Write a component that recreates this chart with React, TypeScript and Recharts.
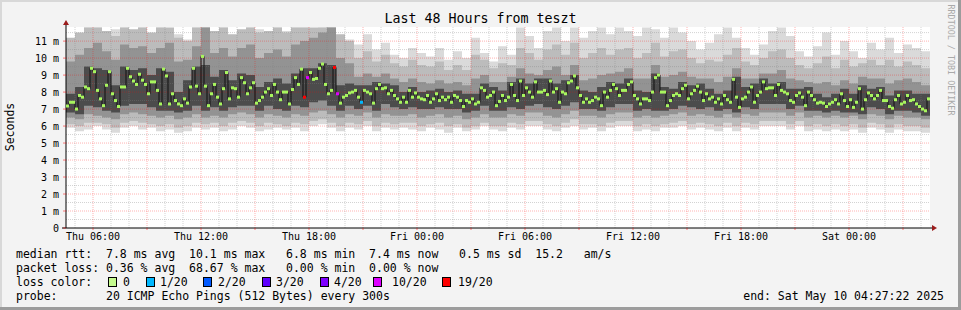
import React from 'react';
import { ComposedChart, Area, Line, XAxis, YAxis, ReferenceLine, CartesianGrid } from 'recharts';

// ---- data (time axis: hours since Thu 04:30; median every 10 minutes, smoke bands every 30 minutes) ----
const medianRtt = [
  7.18, 7.4, 7.4, 7.0, 7.8, 7.7, 8.3, 8.2, 9.4, 9.2,
  8.1, 7.6, 7.2, 8.4, 9.2, 7.9, 7.5, 7.15, 8.3, 8.3,
  9.4, 8.9, 8.65, 8.45, 9.05, 8.7, 8.45, 7.9, 8.6, 8.6,
  8.1, 7.3, 9.35, 8.95, 7.3, 7.9, 7.5, 7.3, 7.2, 7.6,
  7.35, 8.3, 9.4, 8.35, 7.9, 10.1, 8.35, 7.2, 7.9, 8.45,
  7.7, 7.3, 8.2, 9.15, 7.6, 8.25, 8.2, 7.7,
  8.85, 8.55, 7.9, 8.25, 8.55, 7.35, 7.5, 7.7, 8.0, 8.2,
  7.8, 8.45, 8.0, 7.55, 8.0, 8.0, 7.3, 8.15, 8.85, 8.45,
  9.35, 7.7, 8.85, 9.15, 8.75, 8.8, 9.4, 9.65, 8.45, 7.9,
  8.1, 9.45, 7.9, 7.35, 7.7, 7.8, 7.95, 8.0, 8.1, 7.7,
  7.4, 8.1, 8.0, 7.9, 7.35, 8.2, 8.45, 8.2, 8.25, 7.9,
  8.1, 7.8, 7.6, 7.4, 7.7, 7.4, 8.1, 7.7, 7.95, 7.7,
  7.6,
  7.55, 7.8, 7.4, 7.6, 7.9, 7.5, 7.7, 7.55, 7.7, 7.4,
  7.8, 7.7, 7.5, 7.15, 7.5, 7.4, 7.6, 7.3, 7.4, 8.25,
  8.1, 7.7, 7.8, 8.0, 7.2, 7.45, 7.8, 7.5, 7.7, 8.45,
  7.8, 7.5, 8.65, 7.8, 8.25, 8.0, 7.7, 8.6, 8.0, 8.0,
  8.1, 7.85, 8.65, 8.0, 8.2, 7.4, 8.0, 7.9, 8.55, 8.65,
  8.95, 8.25, 7.8, 7.4, 7.6, 7.4, 7.5, 7.7, 7.6, 7.2,
  8.0, 7.7, 8.1, 8.45, 8.2, 7.8, 8.1, 8.1, 8.45, 8.6,
  7.8, 7.6, 7.3, 7.6, 7.6, 7.5, 8.0, 8.85, 9.0, 8.0,
  8.0, 7.2, 7.5, 7.8, 7.9, 7.8, 8.2, 8.4, 7.6, 7.9,
  8.1, 8.35, 8.0, 7.5, 7.9, 7.6, 7.7, 7.4, 7.6, 7.3,
  7.8, 7.55, 7.4, 8.75, 7.7, 7.1, 7.6, 7.7, 8.0, 8.3,
  7.4, 7.8, 8.0, 8.6, 8.2, 8.25,
  8.25, 7.8, 8.45, 8.1, 8.0, 7.9, 7.5, 7.4, 7.8, 7.95,
  7.7, 7.2, 8.0, 7.8, 7.55, 7.35, 7.4, 7.35, 7.15, 7.3,
  7.4, 7.55, 7.3, 7.9, 7.5, 7.15, 7.55, 7.1, 7.4, 8.2,
  7.0, 7.55, 7.95, 7.8, 7.6, 7.8, 8.1, 7.5, 7.5, 7.15,
  7.05, 7.55, 7.8, 7.3, 7.4, 7.8, 7.5, 7.55, 7.3, 7.15,
  7.0, 6.9, 7.6,
];

// lost pings (of 20) at given 10-minute steps
const lossSteps = [79, 80, 89, 90, 98];
const lossCounts = [19, 10, 19, 10, 1];

// smoke: outermost (lightest) band
const outerHi = [
  10.9, 11.3, 11.8, 11.8, 11.4, 11.7, 11.8, 11.5, 11.8, 11.3,
  11.8, 11.6, 11.4, 11.1, 11.8, 11.8, 11.6, 11.8, 11.2, 11.5,
  11.8, 11.7, 11.4, 11.8, 11.6, 11.8, 11.8, 11.7, 11.8, 11.8,
  11.3, 11.1, 10.8, 11.4, 10.5, 10.9, 10.2, 10.0, 10.6, 10.3,
  10.1, 10.6, 9.9, 10.4, 10.0, 11.2, 10.3, 9.8, 10.7, 10.2,
  11.8, 11.3, 10.6, 11.6, 11.8, 11.0, 11.8, 11.2, 11.6, 11.8,
  11.4, 11.8, 11.6, 11.3, 11.8, 11.7, 11.2, 11.8, 11.5, 11.0,
  10.5, 10.9, 11.4, 11.8, 11.2, 10.6, 10.2, 10.8, 11.6, 11.8,
  11.3, 10.4, 10.1, 10.7, 11.5, 10.2, 11.0, 10.4, 10.0, 10.9,
  10.5, 11.2, 10.3, 10.8, 10.6, 10.4,
];
const outerLo = [
  5.9, 5.7, 5.8, 6.0, 5.8, 5.6, 5.9, 6.0, 5.8, 5.9,
  5.7, 5.8, 5.6, 5.7, 5.9, 5.8, 5.9, 5.7, 5.8, 6.0,
  5.9, 5.7, 5.8, 5.9, 5.8, 5.9, 5.7, 6.0, 6.1, 5.9,
  5.7, 5.9, 5.8, 6.0, 5.7, 5.9, 5.8, 5.9, 5.8, 5.7,
  5.9, 5.8, 5.6, 5.9, 5.7, 5.8, 6.0, 5.8, 5.7, 5.9,
  5.8, 6.0, 6.0, 5.8, 5.7, 5.9, 6.0, 5.8, 5.9, 5.7,
  5.9, 6.0, 6.0, 5.7, 5.8, 5.7, 5.9, 5.9, 6.0, 5.8,
  5.9, 5.8, 5.7, 5.9, 5.7, 5.9, 5.8, 6.0, 6.0, 6.0,
  5.8, 6.0, 5.7, 5.8, 5.7, 5.8, 5.7, 5.8, 5.6, 5.9,
  5.8, 5.6, 5.8, 5.7, 5.7, 5.6,
];
// second band
const lightHi = [
  11.2, 11.5, 11.8, 11.8, 11.6, 11.3, 11.8, 11.7, 11.8, 11.5,
  11.8, 11.8, 11.2, 11.0, 11.8, 11.8, 11.6, 11.8, 11.4, 11.7,
  11.8, 11.5, 11.6, 11.8, 11.5, 11.8, 11.8, 11.8, 11.8, 11.8,
  11.4, 11.0, 10.0, 10.4, 9.8, 10.2, 9.7, 9.5, 9.9, 9.6,
  9.5, 9.8, 9.3, 9.6, 9.3, 10.2, 9.9, 9.4, 9.7, 9.6,
  10.6, 10.3, 9.9, 10.5, 10.8, 10.2, 10.9, 10.0, 10.3, 10.6,
  10.2, 10.5, 10.6, 10.0, 10.3, 10.9, 10.1, 10.4, 10.5, 10.0,
  9.7, 9.9, 9.8, 10.2, 10.6, 9.8, 9.6, 10.0, 10.4, 10.5,
  10.0, 9.6, 9.4, 9.7, 10.1, 9.4, 9.9, 9.5, 9.7, 9.9,
  9.6, 9.9, 9.5, 9.8, 9.6, 9.4,
];
const lightLo = [
  6.1, 6.0, 6.2, 6.2, 6.1, 5.9, 6.2, 6.3, 6.2, 6.1,
  6.0, 6.1, 5.9, 6.0, 6.2, 6.1, 6.2, 6.0, 6.2, 6.3,
  6.2, 6.0, 6.2, 6.1, 6.0, 6.2, 6.1, 6.3, 6.4, 6.2,
  6.0, 6.2, 6.1, 6.3, 6.0, 6.2, 6.1, 6.2, 6.2, 6.0,
  6.1, 6.2, 6.0, 6.1, 5.9, 6.0, 6.2, 6.0, 6.0, 6.2,
  6.1, 6.3, 6.3, 6.1, 6.0, 6.2, 6.4, 6.1, 6.1, 6.0,
  6.2, 6.3, 6.3, 6.0, 6.1, 6.0, 6.1, 6.2, 6.3, 6.1,
  6.2, 6.1, 6.0, 6.2, 6.0, 6.2, 6.1, 6.3, 6.3, 6.3,
  6.1, 6.3, 6.0, 6.1, 6.0, 6.1, 6.0, 6.1, 5.9, 6.2,
  6.1, 5.9, 6.1, 6.0, 6.0, 5.9,
];
// third band
const midHi = [
  9.8, 10.2, 10.6, 10.9, 10.4, 9.9, 10.8, 10.6, 10.7, 10.3,
  10.6, 10.9, 9.8, 9.9, 10.7, 11.8, 10.3, 10.6, 10.1, 10.6,
  10.8, 10.0, 10.3, 10.5, 10.1, 10.8, 11.0, 11.2, 11.5, 11.8,
  10.0, 9.7, 8.9, 9.1, 8.9, 9.1, 8.8, 8.6, 8.8, 8.6,
  8.5, 8.7, 8.5, 8.6, 8.4, 8.8, 9.0, 8.6, 8.6, 8.9,
  9.4, 9.1, 9.0, 9.3, 9.5, 9.0, 9.6, 8.7, 8.8, 9.0,
  9.1, 9.2, 9.4, 8.8, 8.8, 9.6, 8.9, 9.0, 9.2, 8.9,
  8.8, 8.8, 8.6, 8.9, 9.4, 8.8, 8.8, 9.1, 9.1, 9.3,
  8.8, 8.7, 8.6, 8.5, 8.6, 8.4, 8.7, 8.5, 8.9, 8.8,
  8.8, 8.5, 8.7, 8.8, 8.6, 8.4,
];
const midLo = [
  6.5, 6.4, 6.7, 6.6, 6.5, 6.4, 6.7, 6.8, 6.7, 6.6,
  6.5, 6.6, 6.4, 6.5, 6.7, 6.5, 6.6, 6.5, 6.7, 6.8,
  6.7, 6.5, 6.7, 6.6, 6.5, 6.7, 6.6, 6.8, 6.9, 6.7,
  6.5, 6.7, 6.6, 6.8, 6.5, 6.7, 6.6, 6.6, 6.7, 6.5,
  6.6, 6.7, 6.5, 6.6, 6.4, 6.5, 6.7, 6.5, 6.5, 6.7,
  6.6, 6.8, 6.8, 6.6, 6.5, 6.7, 6.9, 6.6, 6.6, 6.5,
  6.7, 6.8, 6.8, 6.5, 6.6, 6.5, 6.6, 6.7, 6.8, 6.6,
  6.7, 6.6, 6.5, 6.7, 6.5, 6.7, 6.6, 6.8, 6.8, 6.8,
  6.6, 6.8, 6.5, 6.6, 6.5, 6.6, 6.5, 6.6, 6.4, 6.7,
  6.6, 6.4, 6.6, 6.5, 6.5, 6.4,
];
// dense core
const innerHi = [
  7.9, 8.3, 9.5, 9.4, 9.3, 8.4, 9.5, 9.3, 9.4, 9.0,
  9.4, 9.2, 8.0, 8.7, 9.5, 9.6, 8.9, 9.3, 8.7, 9.1,
  9.0, 8.3, 8.6, 8.8, 8.5, 9.1, 9.4, 9.4, 9.7, 9.6,
  8.4, 8.5, 8.4, 8.4, 8.6, 8.5, 8.4, 8.0, 8.3, 8.0,
  8.1, 8.2, 8.0, 8.1, 7.9, 7.9, 8.5, 8.3, 8.1, 8.6,
  8.8, 8.5, 8.8, 8.8, 8.5, 8.7, 9.0, 8.1, 8.0, 8.3,
  8.6, 8.5, 8.8, 8.1, 8.0, 9.1, 8.3, 8.2, 8.6, 8.4,
  8.5, 8.2, 7.9, 8.1, 8.9, 8.3, 8.5, 8.8, 8.5, 8.6,
  8.2, 8.2, 8.3, 7.9, 7.7, 7.9, 8.2, 7.9, 8.4, 8.2,
  8.3, 7.8, 8.1, 8.1, 7.9, 7.9,
];
const innerLo = [
  6.8, 6.7, 7.2, 7.1, 6.9, 6.8, 7.2, 7.3, 7.3, 7.1,
  6.9, 6.9, 6.8, 6.9, 7.2, 6.9, 7.1, 6.9, 7.1, 7.2,
  7.2, 6.9, 7.2, 7.0, 6.9, 7.2, 7.1, 7.4, 7.5, 7.2,
  6.9, 7.2, 7.0, 7.2, 6.9, 7.3, 7.1, 7.0, 7.1, 7.0,
  7.0, 7.1, 7.0, 7.0, 6.8, 6.9, 7.2, 6.9, 6.9, 7.1,
  7.0, 7.2, 7.3, 7.1, 7.0, 7.2, 7.4, 7.0, 7.0, 6.9,
  7.1, 7.3, 7.3, 6.9, 7.0, 6.9, 6.9, 7.0, 7.2, 7.1,
  7.0, 7.1, 6.9, 7.0, 6.8, 7.1, 7.0, 7.3, 7.3, 7.3,
  7.0, 7.2, 6.9, 6.9, 6.8, 6.9, 6.8, 6.8, 6.7, 7.1,
  7.0, 6.7, 6.9, 6.9, 6.8, 6.6,
];

const xTickHours = [1.5, 7.5, 13.5, 19.5, 25.5, 31.5, 37.5, 43.5];
const xTickLabels = ['Thu 06:00', 'Thu 12:00', 'Thu 18:00', 'Fri 00:00', 'Fri 06:00', 'Fri 12:00', 'Fri 18:00', 'Sat 00:00'];
const yTicks = [0, 1, 2, 3, 4, 5, 6, 7, 8, 9, 10, 11];
const yMinor = [0.5, 1.5, 2.5, 3.5, 4.5, 5.5, 6.5, 7.5, 8.5, 9.5, 10.5, 11.5];
const xMajor = [1.5, 4.5, 7.5, 10.5, 13.5, 16.5, 19.5, 22.5, 25.5, 28.5, 31.5, 34.5, 37.5, 40.5, 43.5, 46.5];
const xMinor = [0.5, 2.5, 3.5, 5.5, 6.5, 8.5, 9.5, 11.5, 12.5, 14.5, 15.5, 17.5, 18.5, 20.5, 21.5, 23.5, 24.5, 26.5, 27.5, 29.5, 30.5, 32.5, 33.5, 35.5, 36.5, 38.5, 39.5, 41.5, 42.5, 44.5, 45.5, 47.5];

const lossLevelLabels = ['0', '1/20', '2/20', '3/20', '4/20', '10/20', '19/20'];
const lossLevelMin = [0, 1, 2, 3, 4, 10, 19];
const lossLevelColors = ['#a8f55e', '#00b8ff', '#0059ff', '#5e00ff', '#7e00ff', '#dd00ff', '#ff0000'];

const lineRtt = 'median rtt:  7.8 ms avg  10.1 ms max   6.8 ms min  7.4 ms now   0.5 ms sd  15.2   am/s';
const lineLoss = 'packet loss: 0.36 % avg  68.67 % max   0.00 % min  0.00 % now';
const lineProbe = 'probe:       20 ICMP Echo Pings (512 Bytes) every 300s';
const lineEnd = 'end: Sat May 10 04:27:22 2025';
const title = 'Last 48 Hours from teszt';

// ---- build table ----
const lossColor = (n: number) => {
  let c = lossLevelColors[0];
  for (let k = 0; k < lossLevelMin.length; k++) if (n >= lossLevelMin[k]) c = lossLevelColors[k];
  return c;
};
const rows = Array.from({ length: medianRtt.length + 1 }, (_, i) => {
  const idx = Math.min(i, medianRtt.length - 1);
  const slot = Math.floor(idx / 3);
  const li = lossSteps.indexOf(idx);
  return {
    t: i / 6,
    med: medianRtt[idx],
    loss: li >= 0 ? lossCounts[li] : 0,
    last: i === medianRtt.length,
    outer: [outerLo[slot], outerHi[slot]],
    light: [lightLo[slot], lightHi[slot]],
    mid: [midLo[slot], midHi[slot]],
    inner: [innerLo[slot], innerHi[slot]],
  };
});

const FONT = "'DejaVu Sans Mono', monospace";
const AXIS_RED = '#9b1c1c';

const MedianDot = (props: any) => {
  const { cx, cy, index, payload } = props;
  if (payload.last || cx == null || cy == null) return <g key={`d${index}`} />;
  return <rect key={`d${index}`} x={cx} y={cy - 1.5} width={3} height={3} fill={lossColor(payload.loss)} />;
};

const YArrow = (props: any) => {
  const vb = props.viewBox;
  const ax = vb.x + vb.width;
  return (
    <g>
      <line x1={ax} y1={vb.y} x2={ax} y2={vb.y - 3} stroke="#000" />
      <polygon points={`${ax},${vb.y - 7} ${ax - 3},${vb.y - 2} ${ax + 3},${vb.y - 2}`} fill={AXIS_RED} />
    </g>
  );
};
const XArrow = (props: any) => {
  const vb = props.viewBox;
  const ex = vb.x + vb.width;
  return (
    <g>
      <line x1={vb.x - 4} y1={vb.y} x2={vb.x} y2={vb.y} stroke="#000" />
      <line x1={ex} y1={vb.y} x2={ex + 3} y2={vb.y} stroke="#000" />
      <polygon points={`${ex + 7},${vb.y} ${ex + 2},${vb.y - 3} ${ex + 2},${vb.y + 3}`} fill={AXIS_RED} />
    </g>
  );
};

const legendBoxX = [108, 146, 203, 262, 320, 373, 442];
const legendLabelX = [123, 160, 218, 276, 334, 392, 458];

const textBase: React.CSSProperties = {
  position: 'absolute',
  fontFamily: FONT,
  fontSize: '11.5px',
  lineHeight: '14px',
  whiteSpace: 'pre',
  color: '#000',
};

export default function App() {
  return (
    <div style={{ position: 'absolute', left: 0, top: 0, width: 961, height: 310, background: '#f3f3f3', overflow: 'hidden' }}>
      {/* frame */}
      <div style={{ position: 'absolute', left: 0, top: 0, width: 961, height: 2, background: '#d8d8d8' }} />
      <div style={{ position: 'absolute', left: 0, top: 0, width: 2, height: 310, background: '#d8d8d8' }} />
      <div style={{ position: 'absolute', left: 0, top: 307, width: 961, height: 3, background: '#9c9c9c' }} />
      <div style={{ position: 'absolute', left: 958, top: 0, width: 3, height: 310, background: '#9c9c9c' }} />

      <div style={{ position: 'absolute', left: 0, top: 0 }}>
        <ComposedChart width={961} height={310} data={rows} margin={{ top: 27, right: 31, bottom: 62, left: 10 }}>
          <CartesianGrid horizontal={false} vertical={false} fill="#ffffff" />
          <XAxis
            dataKey="t"
            type="number"
            domain={[0, 48]}
            allowDataOverflow
            ticks={xMajor}
            interval={0}
            tickFormatter={(v: number) => xTickLabels[xTickHours.indexOf(v)] ?? ''}
            tick={{ fontFamily: FONT, fontSize: 10, fill: '#000' }}
            tickLine={{ stroke: '#ff0000', strokeOpacity: 0.5 }}
            tickSize={2}
            tickMargin={3}
            axisLine={{ stroke: '#000' }}
            height={20}
            label={{ content: XArrow } as any}
          />
          <YAxis
            type="number"
            domain={[0, 11.83]}
            allowDataOverflow
            ticks={yTicks}
            interval={0}
            tickFormatter={(v: number) => (v === 0 ? '0' : `${v} m`)}
            tick={{ fontFamily: FONT, fontSize: 10, fill: '#000' }}
            tickSize={3}
            tickMargin={4}
            tickLine={{ stroke: '#ff0000', strokeOpacity: 0.5 }}
            axisLine={{ stroke: '#000' }}
            width={56}
            label={{ content: YArrow } as any}
          />
          <Area dataKey="outer" type="stepAfter" stroke="none" fill="#dadada" fillOpacity={1} isAnimationActive={false} activeDot={false} />
          <Area dataKey="light" type="stepAfter" stroke="none" fill="#bcbcbc" fillOpacity={1} isAnimationActive={false} activeDot={false} />
          <Area dataKey="mid" type="stepAfter" stroke="none" fill="#939393" fillOpacity={1} isAnimationActive={false} activeDot={false} />
          <Area dataKey="inner" type="stepAfter" stroke="none" fill="#4c4c4c" fillOpacity={1} isAnimationActive={false} activeDot={false} />
          {xMinor.map((v) => (
            <ReferenceLine key={`xm${v}`} x={v} stroke="#808080" strokeOpacity={0.35} strokeDasharray="1 1" />
          ))}
          {yMinor.map((v) => (
            <ReferenceLine key={`ym${v}`} y={v} stroke="#808080" strokeOpacity={0.35} strokeDasharray="1 1" />
          ))}
          {xMajor.map((v) => (
            <ReferenceLine key={`xM${v}`} x={v} stroke="#ff0000" strokeOpacity={0.3} strokeDasharray="1 1" />
          ))}
          {yTicks.filter((v) => v > 0).map((v) => (
            <ReferenceLine key={`yM${v}`} y={v} stroke="#ff0000" strokeOpacity={0.3} strokeDasharray="1 1" />
          ))}
          <Line dataKey="med" type="stepAfter" stroke="#111" strokeWidth={1} dot={MedianDot} activeDot={false} isAnimationActive={false} />
        </ComposedChart>
      </div>

      {/* title */}
      <div style={{ position: 'absolute', left: 0, top: 11, width: 961, textAlign: 'center', fontFamily: FONT, fontSize: '13.3px', lineHeight: '16px', color: '#000', whiteSpace: 'pre' }}>
        {title}
      </div>
      {/* y label */}
      <div style={{ position: 'absolute', left: 10, top: 127, transform: 'translate(-50%, -50%) rotate(-90deg)', fontFamily: FONT, fontSize: '11.5px', whiteSpace: 'pre', color: '#000' }}>
        Seconds
      </div>
      {/* credits */}
      <div style={{ position: 'absolute', left: 951, top: 60, transform: 'translate(-50%, -50%) rotate(90deg)', fontFamily: FONT, fontSize: '8.4px', whiteSpace: 'pre', color: '#a9a9a9' }}>
        RRDTOOL / TOBI OETIKER
      </div>

      {/* legend */}
      <div style={{ ...textBase, left: 16, top: 247 }}>{lineRtt}</div>
      <div style={{ ...textBase, left: 16, top: 261 }}>{lineLoss}</div>
      <div style={{ ...textBase, left: 16, top: 275 }}>loss color:</div>
      {lossLevelLabels.map((lab, k) => (
        <React.Fragment key={lab}>
          <div style={{ position: 'absolute', left: legendBoxX[k], top: 277, width: 7, height: 8, border: '1px solid #000', background: k === 0 ? '#c4fa8e' : lossLevelColors[k] }} />
          <div style={{ ...textBase, left: legendLabelX[k], top: 275 }}>{lab}</div>
        </React.Fragment>
      ))}
      <div style={{ ...textBase, left: 16, top: 289 }}>{lineProbe}</div>
      <div style={{ ...textBase, right: 17, top: 289 }}>{lineEnd}</div>
    </div>
  );
}
